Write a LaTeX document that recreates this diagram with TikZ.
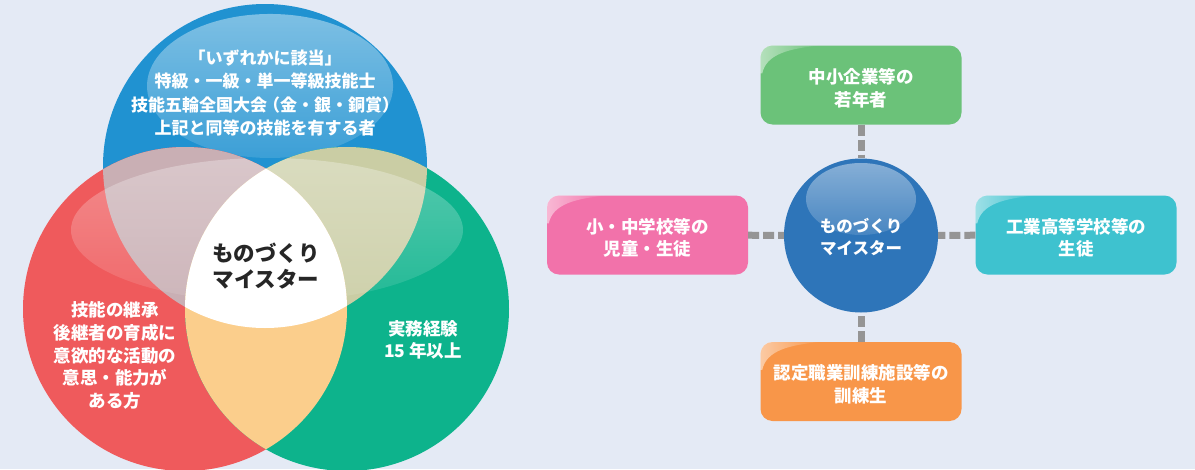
\documentclass[tikz,border=0pt]{standalone}
\usepackage{fontspec}
\setmainfont{Noto Sans CJK JP}
\usetikzlibrary{fadings}
\definecolor{bg}{HTML}{E4EAF5}
\definecolor{vblue}{HTML}{2092D1}
\definecolor{vred}{HTML}{EF5A5C}
\definecolor{vgreen}{HTML}{0DB38C}
\definecolor{vrb}{HTML}{C9AFB4}
\definecolor{vbg}{HTML}{CACDA4}
\definecolor{vrg}{HTML}{FBCE8C}
\definecolor{mblue}{HTML}{2E75B9}
\definecolor{gboxc}{HTML}{6BC279}
\definecolor{pboxc}{HTML}{F272AA}
\definecolor{cboxc}{HTML}{3EC2CF}
\definecolor{oboxc}{HTML}{F89649}
\definecolor{connc}{HTML}{959595}
\tikzfading[name=fadedown, top color=transparent!0, bottom color=transparent!70]
\tikzfading[name=faderight, left color=transparent!0, right color=transparent!100]
\tikzset{
  vtxt/.style={text=white, font=\bfseries\fontsize{17}{23.3}\selectfont, align=center, inner sep=0pt},
  ctxt/.style={text=black!85, font=\bfseries\fontsize{21.5}{26.5}\selectfont, align=center, inner sep=0pt},
  box/.style={rounded corners=12pt, minimum width=201pt, minimum height=79pt, inner sep=0pt},
  btxt/.style={text=white, font=\bfseries\fontsize{17.5}{22.5}\selectfont, align=center, inner sep=0pt},
  conn/.style={draw=connc, line width=7pt, dash pattern=on 11pt off 4pt},
  hl/.style={white, fill opacity=#1, path fading=fadedown, fit fading=true},
}
\newcommand{\gloss}[1]{%
  \begin{scope}
    \clip[rounded corners=12pt] (#1.north west) rectangle (#1.south east);
    \begin{scope}[shift={(#1.north west)}]
      \fill[white, fill opacity=0.5, path fading=faderight, fit fading=true]
        (0,0) -- (62,0) .. controls (28,3) and (6,9) .. (2,28) -- (0,28) -- cycle;
    \end{scope}
  \end{scope}}
\begin{document}
\begin{tikzpicture}[x=1pt,y=-1pt]
\useasboundingbox (0,0) rectangle (1195,469);
\fill[bg] (0,0) rectangle (1195,469);

% ---------- Venn ----------
\coordinate (cb) at (265,166);
\coordinate (cr) at (185,309);
\coordinate (cg) at (347,309);
\fill[vblue] (cb) circle (162pt);
\begin{scope}
  \clip (cb) circle (162pt);
  \fill[hl=0.42] (270,86) ellipse (123pt and 72pt);
\end{scope}
\fill[vred] (cr) circle (162pt);
\fill[vgreen] (cg) circle (162pt);
\begin{scope}
  \clip (cb) circle (162pt);
  \fill[vrb] (cr) circle (162pt);
  \fill[vbg] (cg) circle (162pt);
\end{scope}
\begin{scope}
  \clip (cr) circle (162pt);
  \fill[vrg] (cg) circle (162pt);
\end{scope}
\begin{scope}
  \clip (cr) circle (162pt) (cg) circle (162pt);
  \fill[hl=0.3] (267,230) ellipse (196pt and 72pt);
\end{scope}
\begin{scope}
  \clip (cb) circle (162pt);
  \clip (cr) circle (162pt);
  \fill[white] (cg) circle (162pt);
\end{scope}

\node[vtxt] (tblue) at (265,93) {「いずれかに該当」\\特級・一級・単一等級技能士\\技能五輪全国大会\hspace{-4pt}（金・銀・銅賞）\hspace{-4pt}\\上記と同等の技能を有する者};
\node[ctxt] (tcenter) at (266,266) {ものづくり\\マイスター};
\node[vtxt, font=\bfseries\fontsize{17.5}{22.75}\selectfont] (tred) at (115,355.5) {技能の継承\\後継者の育成に\\意欲的な活動の\\意思・能力が\\ある方};
\node[vtxt, font=\bfseries\fontsize{17.5}{22}\selectfont] (tgreen) at (423,339.5) {実務経験\\15 年以上};

% ---------- right diagram ----------
\node[circle, fill=mblue, minimum size=154pt, inner sep=0pt] (mm) at (861,235.5) {};
\begin{scope}
  \clip (mm) circle (77pt);
  \fill[hl=0.42] (861,199) ellipse (55pt and 36pt);
\end{scope}
\node[btxt, font=\bfseries\fontsize{16.5}{22}\selectfont] (mmtxt) at (861,237) {ものづくり\\マイスター};

\node[box, fill=gboxc] (gbox) at (861,85) {};
\node[box, fill=pboxc] (pbox) at (647.5,235) {};
\node[box, fill=cboxc] (cbox) at (1076,235) {};
\node[box, fill=oboxc] (obox) at (861,381.5) {};
\gloss{gbox}\gloss{pbox}\gloss{cbox}\gloss{obox}
\node[btxt] (gtxt) at ([yshift=-3.5pt]gbox.center) {中小企業等の\\若年者};
\node[btxt] (ptxt) at ([yshift=-3pt]pbox.center) {小・中学校等の\\児童・生徒};
\node[btxt] (ctxtb) at ([yshift=-3pt]cbox.center) {工業高等学校等の\\生徒};
\node[btxt] (otxt) at ([yshift=-3pt]obox.center) {認定職業訓練施設等の\\訓練生};

\draw[conn] (gbox) -- (mm);
\draw[conn] (pbox) -- (mm);
\draw[conn] (cbox) -- (mm);
\draw[conn] (obox) -- (mm);
\end{tikzpicture}
\end{document}
